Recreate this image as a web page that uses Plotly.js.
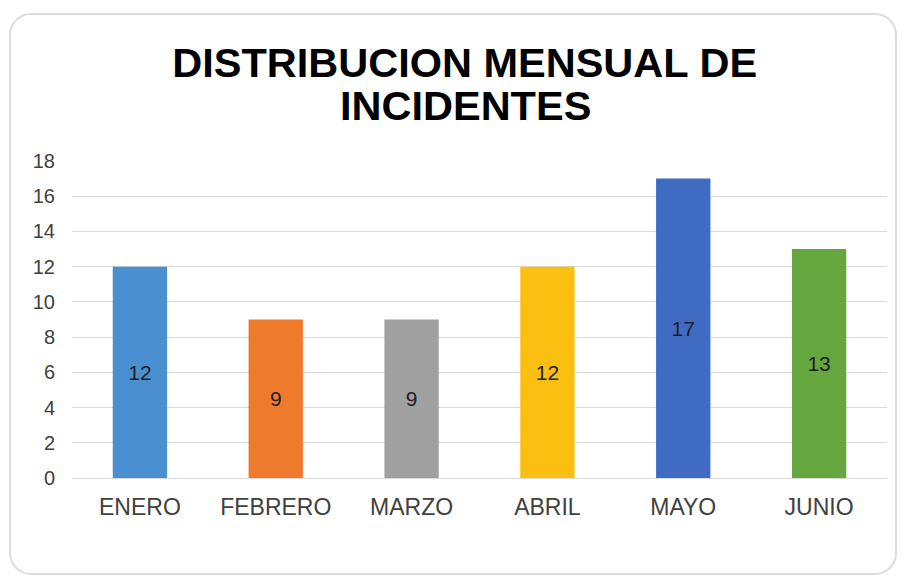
<!DOCTYPE html>
<html>
<head>
<meta charset="utf-8">
<script src="https://cdn.plot.ly/plotly-3.0.1.min.js"></script>
<style>
  html, body { margin: 0; padding: 0; background: #ffffff; }
  #wrap { position: relative; width: 904px; height: 581px; overflow: hidden; }
  #card { position: absolute; left: 9px; top: 13px; width: 888px; height: 562px;
          border: 2px solid #dcdcdc; border-radius: 22px; box-sizing: border-box; background: #fff; }
  #chart { position: absolute; left: 0; top: 0; width: 904px; height: 581px; }
</style>
</head>
<body>
<div id="wrap">
  <div id="card"></div>
  <div id="chart"></div>
</div>
<script>
const months = ["ENERO", "FEBRERO", "MARZO", "ABRIL", "MAYO", "JUNIO"];
const incidents = [12, 9, 9, 12, 17, 13];
const barColors = ["#4a90d0", "#ee7a2b", "#a0a0a0", "#fbbf12", "#3f6bc2", "#66a63e"];
const yTicks = [0, 2, 4, 6, 8, 10, 12, 14, 16, 18];
const titleLine1 = "DISTRIBUCION MENSUAL DE";
const titleLine2 = "INCIDENTES";

const trace = {
  type: "bar",
  x: months,
  y: incidents,
  marker: { color: barColors, line: { width: 0 } },
  text: incidents.map(String),
  textposition: "inside",
  insidetextanchor: "middle",
  textangle: 0,
  textfont: { family: "Liberation Sans, Arial, sans-serif", size: 21, color: "#1e1e2a" },
  hoverinfo: "x+y"
};

const layout = {
  width: 904,
  height: 581,
  margin: { l: 72, r: 17, t: 161, b: 103 },
  paper_bgcolor: "rgba(0,0,0,0)",
  plot_bgcolor: "rgba(0,0,0,0)",
  showlegend: false,
  bargap: 0.6,
  font: { family: "Liberation Sans, Arial, sans-serif", color: "#404040" },
  title: {
    text: titleLine1,
    xref: "container", x: 0.514, xanchor: "center",
    yref: "container", y: 1 - 62 / 581, yanchor: "middle",
    font: { family: "Liberation Sans, Arial, sans-serif", size: 41.5, color: "#000000", weight: "bold" }
  },
  annotations: [{
    text: titleLine2,
    xref: "paper", x: (465 - 72) / 815, xanchor: "center",
    yref: "paper", y: (478 - 105) / 317, yanchor: "middle",
    showarrow: false,
    font: { family: "Liberation Sans, Arial, sans-serif", size: 41.5, color: "#000000", weight: "bold" }
  }],
  xaxis: {
    type: "category",
    showgrid: false,
    showline: true,
    linecolor: "#d9d9d9",
    linewidth: 1,
    ticks: "",
    ticklabelstandoff: 8,
    tickfont: { family: "Liberation Sans, Arial, sans-serif", size: 23, color: "#404040" }
  },
  yaxis: {
    range: [0, 18],
    tickvals: yTicks,
    ticktext: yTicks.map(String),
    showgrid: true,
    gridcolor: "#d9d9d9",
    gridwidth: 1,
    zeroline: false,
    showline: false,
    ticks: "",
    ticklabelstandoff: 16,
    tickfont: { family: "Liberation Sans, Arial, sans-serif", size: 20, color: "#404040" }
  }
};

Plotly.newPlot("chart", [trace], layout, { displayModeBar: false, staticPlot: true });
</script>
</body>
</html>
